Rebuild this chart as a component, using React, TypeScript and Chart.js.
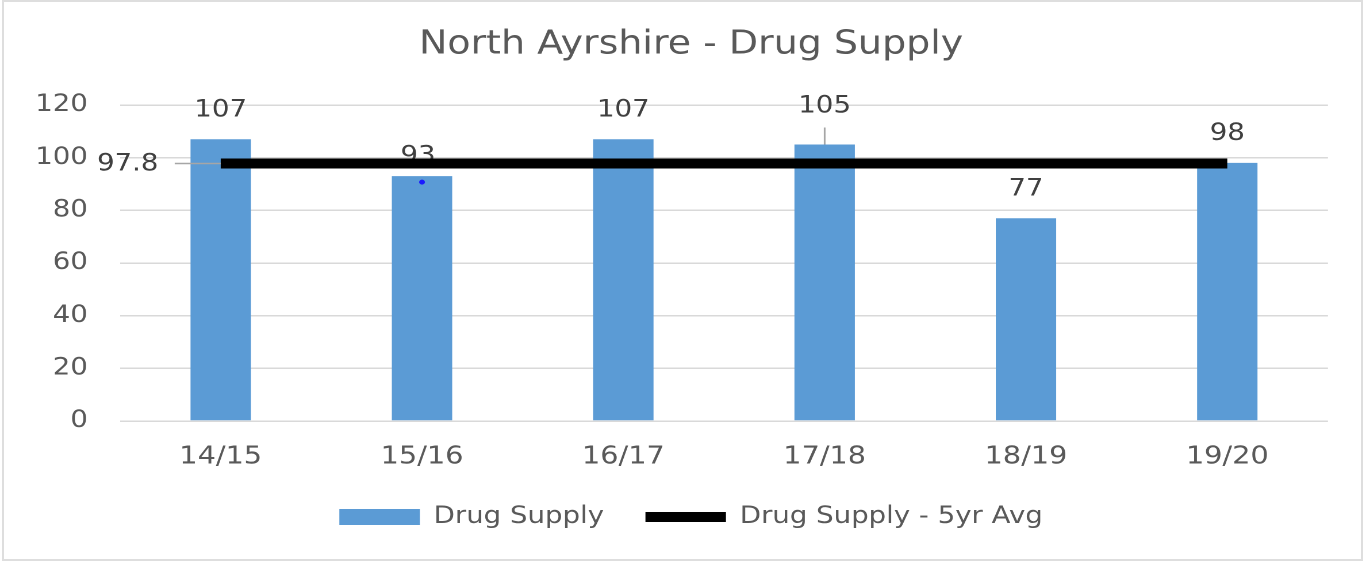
import React, { useEffect, useRef } from 'react';
import { Chart, registerables } from 'chart.js';

Chart.register(...registerables);

// ---------- data ----------
const categories = ['14/15', '15/16', '16/17', '17/18', '18/19', '19/20'];
const drugSupply = [107, 93, 107, 105, 77, 98];
const fiveYrAvg = [97.8, 97.8, 97.8, 97.8, 97.8, 97.8];
const markerPoint: (number | null)[] = [null, 90.7, null, null, null, null];
const yTicks = [0, 20, 40, 60, 80, 100, 120];
const seriesNames = ['Drug Supply', 'Drug Supply - 5yr Avg'];
const titleText = 'North Ayrshire - Drug Supply';
const avgLabel = '97.8';

// ---------- styling ----------
const SCREEN_W = 1366;
const H = 562;
const CANVAS_W = 1188;
const SX = SCREEN_W / CANVAS_W;
const px = (v: number) => v / SX; // screen horizontal px -> canvas px
const FONT = "'DejaVu Sans', sans-serif";
const TEXT = '#595959';
const LABEL = '#404040';
const BAR = '#5b9bd5';
const GRID = '#d9d9d9';
const labelRise = [29, 20, 29, 38, 29, 29];
const labelShift = [0, -4, 0, 0, 0, 0];
const leaderIdx = 3;

const labelPlugin = {
  id: 'valueLabels',
  afterDatasetDraw(chart: any, args: any) {
    const ctx = chart.ctx;
    if (args.index === 0) {
      const meta = chart.getDatasetMeta(0);
      ctx.save();
      ctx.font = `24px ${FONT}`;
      ctx.fillStyle = LABEL;
      ctx.textAlign = 'center';
      ctx.textBaseline = 'middle';
      meta.data.forEach((el: any, i: number) => {
        const x = el.x + px(labelShift[i]);
        const y = el.y - labelRise[i];
        if (i === leaderIdx) {
          ctx.beginPath();
          ctx.strokeStyle = '#a6a6a6';
          ctx.lineWidth = 1.5;
          ctx.moveTo(el.x, y + 21);
          ctx.lineTo(el.x, el.y);
          ctx.stroke();
        }
        ctx.fillText(String(drugSupply[i]), x, y);
      });
      ctx.restore();
    }
    if (args.index === 1) {
      const meta = chart.getDatasetMeta(1);
      const p0 = meta.data[0];
      ctx.save();
      ctx.beginPath();
      ctx.strokeStyle = '#a6a6a6';
      ctx.lineWidth = 1.5;
      ctx.moveTo(p0.x - px(46), p0.y);
      ctx.lineTo(p0.x, p0.y);
      ctx.stroke();
      ctx.font = `24px ${FONT}`;
      ctx.fillStyle = LABEL;
      ctx.textAlign = 'center';
      ctx.textBaseline = 'middle';
      ctx.fillText(avgLabel, p0.x - px(93), p0.y + 1);
      ctx.restore();
    }
  },
};

export default function App() {
  const ref = useRef<HTMLCanvasElement>(null);

  useEffect(() => {
    const canvas = ref.current!;
    Chart.defaults.font.family = FONT;
    const chart = new Chart(canvas, {
      type: 'bar',
      data: {
        labels: categories,
        datasets: [
          {
            type: 'bar',
            label: seriesNames[0],
            data: drugSupply,
            backgroundColor: BAR,
            borderWidth: 0,
            barPercentage: 0.3,
            categoryPercentage: 1,
            order: 3,
          },
          {
            type: 'line',
            label: seriesNames[1],
            data: fiveYrAvg,
            borderColor: '#000000',
            backgroundColor: '#000000',
            borderWidth: 10,
            pointRadius: 0,
            fill: false,
            tension: 0,
            order: 2,
          },
          {
            type: 'line',
            label: 'marker',
            data: markerPoint,
            showLine: false,
            pointRadius: 2.5,
            pointBorderWidth: 0,
            pointBackgroundColor: '#1a1aff',
            borderColor: '#1a1aff',
            order: 1,
          },
        ] as any,
      },
      options: {
        responsive: false,
        animation: false,
        devicePixelRatio: 2,
        events: [],
        layout: { padding: { left: 14, right: 0, top: 0, bottom: 23 } },
        scales: {
          x: {
            offset: true,
            grid: { display: false },
            border: { display: false },
            ticks: { color: TEXT, font: { size: 25 }, padding: 13 },
            afterFit: (s: any) => {
              s.height = 48;
            },
          },
          y: {
            min: 0,
            max: 120,
            grid: { color: GRID, lineWidth: 1.5, drawTicks: false },
            border: { display: false },
            ticks: { color: TEXT, font: { size: 24 }, padding: 28, stepSize: 20 },
            afterBuildTicks: (s: any) => {
              s.ticks = yTicks.map((v) => ({ value: v }));
            },
            afterFit: (s: any) => {
              s.width = 90.4;
            },
          },
          yR: {
            position: 'right',
            display: true,
            grid: { display: false },
            border: { display: false },
            ticks: { display: false },
            afterFit: (s: any) => {
              s.width = 33.1;
            },
          },
        } as any,
        plugins: {
          tooltip: { enabled: false },
          title: {
            display: true,
            text: titleText,
            color: TEXT,
            font: { size: 33, weight: 'normal' },
            padding: { top: 25.2, bottom: 40.2 },
          },
          legend: {
            position: 'bottom',
            labels: {
              usePointStyle: true,
              pointStyleWidth: 70,
              boxHeight: 16,
              padding: 36,
              color: TEXT,
              font: { size: 24 },
              generateLabels: () => [
                {
                  text: seriesNames[0],
                  fillStyle: BAR,
                  strokeStyle: BAR,
                  lineWidth: 0,
                  pointStyle: 'rect',
                  fontColor: TEXT,
                  hidden: false,
                  datasetIndex: 0,
                },
                {
                  text: seriesNames[1],
                  fillStyle: '#000000',
                  strokeStyle: '#000000',
                  lineWidth: 10,
                  lineCap: 'butt',
                  pointStyle: 'line',
                  fontColor: TEXT,
                  hidden: false,
                  datasetIndex: 1,
                },
              ],
            },
          },
        } as any,
      },
      plugins: [labelPlugin],
    });
    return () => chart.destroy();
  }, []);

  return (
    <div
      style={{
        position: 'fixed',
        left: 0,
        top: 0,
        width: SCREEN_W,
        height: H,
        background: '#ffffff',
        overflow: 'hidden',
      }}
    >
      <canvas
        ref={ref}
        width={CANVAS_W}
        height={H}
        style={{
          position: 'absolute',
          left: 0,
          top: 0,
          width: CANVAS_W,
          height: H,
          transform: `scaleX(${SX})`,
          transformOrigin: '0 0',
        }}
      />
      <div
        style={{
          position: 'absolute',
          left: 2,
          top: 0,
          width: 1361,
          height: 561,
          boxSizing: 'border-box',
          border: '2px solid #dedede',
          pointerEvents: 'none',
        }}
      />
    </div>
  );
}
